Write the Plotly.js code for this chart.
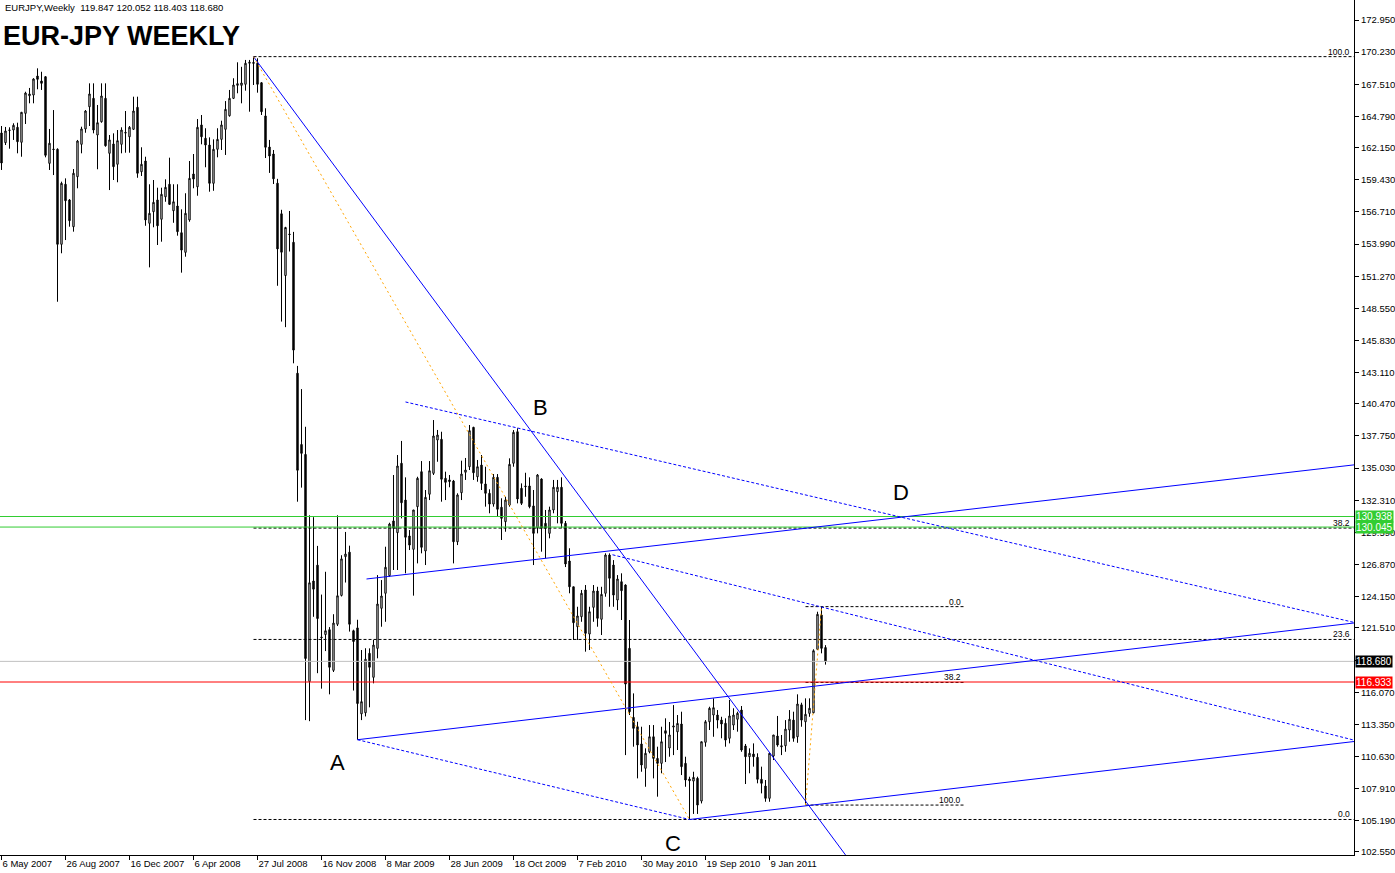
<!DOCTYPE html>
<html><head><meta charset="utf-8">
<script src="https://cdn.plot.ly/plotly-3.0.1.min.js"></script>
<style>html,body{margin:0;padding:0;background:#fff;}#chart{width:1395px;height:873px;}</style>
</head><body><div id="chart"></div>
<script>
// ---- weekly candles (index 0 = week of 6 May 2007) ----
const openP = [163.39,162.57,163.60,163.64,163.87,162.60,165.05,166.54,166.60,168.21,
167.79,168.15,160.82,162.03,162.01,153.97,159.05,157.72,155.46,159.69,
162.43,163.73,165.61,166.32,163.22,164.34,166.32,161.67,162.46,160.74,
162.43,163.43,163.07,163.70,165.56,160.11,161.02,155.75,156.73,157.72,
156.09,157.99,159.05,156.81,157.21,154.95,153.29,156.03,159.92,158.84,
164.07,162.94,162.37,159.13,162.01,162.85,163.70,164.85,166.32,167.42,
167.42,167.51,169.29,169.35,169.29,167.64,164.83,162.20,161.61,159.14,
156.55,151.33,154.84,154.14,143.06,137.03,136.19,116.98,125.48,126.82,
120.74,120.95,121.36,117.92,121.82,124.26,127.54,127.92,121.27,121.51,
114.24,114.33,119.36,117.33,119.78,123.17,124.44,125.93,130.56,129.57,
135.44,132.33,129.29,128.16,131.77,134.73,128.02,132.82,134.59,137.41,
137.47,134.17,134.03,133.94,128.80,132.95,134.68,135.15,138.48,134.30,
135.29,133.69,132.90,131.99,134.25,131.72,130.50,131.91,135.44,138.11,
133.32,133.52,133.52,131.83,129.99,134.11,130.36,129.51,131.49,133.04,
133.41,130.36,127.17,124.99,121.61,122.46,124.72,120.99,123.25,124.63,
122.24,124.44,127.68,126.83,123.87,125.42,125.14,119.78,113.94,113.15,
111.69,109.63,111.03,112.30,110.47,110.05,112.81,111.35,113.12,112.72,
113.38,110.05,108.72,108.55,108.78,106.86,111.83,113.57,114.14,114.14,
113.71,113.44,112.17,113.29,113.78,114.56,111.52,110.61,110.84,110.56,
108.70,108.13,107.09,110.67,112.36,111.54,111.54,112.87,113.71,112.30,
115.00,113.57,114.28,114.33,119.70,122.60,119.847];
const highP = [163.98,163.90,163.87,164.21,164.26,165.17,166.88,167.20,168.02,168.86,
168.57,168.21,163.73,165.33,162.09,159.27,159.55,157.80,160.34,162.80,
163.92,165.33,167.59,167.59,165.76,167.59,167.59,163.22,163.36,163.64,
163.87,165.25,163.98,166.46,166.46,162.18,161.38,159.05,159.41,158.76,
158.76,159.47,161.30,159.05,159.05,156.93,158.29,161.02,161.61,164.57,
164.91,163.79,163.02,162.85,163.79,164.43,166.09,167.03,168.02,169.37,
168.99,169.57,169.57,169.85,169.71,167.70,165.48,162.80,161.95,159.51,
156.89,155.45,156.79,155.02,143.68,141.72,138.53,131.04,130.88,128.45,
124.33,126.26,121.58,122.67,131.04,127.66,129.63,128.47,121.36,122.20,
119.64,119.79,119.78,120.49,125.98,125.56,128.38,130.41,134.45,136.14,
137.33,134.25,129.79,131.49,134.30,135.63,133.18,135.63,139.10,138.26,
138.11,134.73,134.45,134.03,132.90,135.66,135.89,138.68,138.53,135.72,
136.14,135.15,133.24,134.53,134.53,132.48,132.61,135.86,138.25,138.40,
133.74,134.64,134.25,133.18,134.53,134.17,131.49,131.77,134.03,134.03,
134.25,130.56,128.25,124.99,123.30,124.72,125.14,123.30,125.14,124.99,
124.99,127.82,127.82,127.25,125.98,126.13,125.20,122.18,115.97,113.57,
113.15,111.32,113.29,113.29,111.46,113.15,113.86,113.55,114.98,114.14,
114.42,110.61,108.92,109.34,108.92,111.88,113.71,114.84,115.55,114.56,
113.99,113.86,115.41,114.71,114.42,114.90,111.69,111.32,111.74,110.90,
109.77,108.64,110.95,112.45,114.06,112.45,113.71,114.56,114.42,115.89,
115.18,115.55,115.55,119.70,122.88,123.31,120.052];
const lowP = [160.26,162.37,162.06,162.80,161.67,161.38,164.15,165.90,165.90,167.09,
167.03,161.33,160.26,159.83,149.11,153.21,154.33,155.46,155.04,158.71,
161.67,163.41,163.98,163.36,160.32,164.26,162.23,158.56,159.41,159.22,
161.67,161.72,161.72,163.64,159.60,159.75,155.54,152.02,155.41,153.91,
154.19,157.57,157.30,155.79,154.70,151.57,152.92,155.88,158.71,158.08,
162.43,160.49,158.42,158.50,161.33,161.95,161.53,164.77,166.26,166.75,
165.90,166.97,165.19,167.45,166.80,164.91,161.27,160.01,159.07,150.46,
147.43,146.96,153.36,143.90,132.19,133.38,113.71,113.62,122.45,117.68,
116.37,119.55,115.89,117.78,121.67,124.17,125.35,121.20,116.21,112.05,
113.71,114.02,114.79,116.82,118.94,121.61,122.03,125.84,126.41,126.41,
130.78,126.13,128.10,124.24,126.97,127.82,126.83,132.33,134.45,135.57,
132.19,132.33,133.41,126.97,128.52,132.33,134.03,134.87,134.03,133.88,
133.18,131.77,131.21,131.77,130.92,128.95,129.65,131.77,135.15,132.05,
131.91,132.61,131.63,126.83,129.51,127.96,127.40,129.09,131.21,130.36,
129.94,126.66,124.44,120.49,120.49,122.03,119.50,119.64,122.03,121.61,
120.91,124.15,123.30,123.30,123.02,122.18,110.75,114.14,111.46,108.78,
109.34,108.07,110.90,108.78,107.23,109.21,110.16,110.61,110.75,111.18,
109.06,108.07,105.30,105.77,105.77,106.66,111.46,112.87,112.30,113.01,
112.17,111.46,111.74,112.87,112.73,111.03,108.30,109.21,109.77,108.36,
107.51,106.80,106.80,110.33,111.46,110.75,111.03,111.88,111.88,111.79,
113.15,106.52,113.99,114.28,119.64,119.36,118.403];
const closeP = [160.85,163.56,163.64,164.04,162.65,165.14,166.77,166.69,167.96,167.93,
167.59,161.50,162.52,161.99,153.97,159.13,157.66,155.97,159.98,162.71,
163.73,165.25,166.69,163.64,164.26,166.52,162.31,162.80,160.54,162.74,
163.64,163.39,163.87,165.25,159.98,160.74,156.03,156.59,157.52,155.54,
158.20,158.79,157.35,157.57,155.04,153.48,156.59,159.55,159.49,163.87,
163.07,162.37,159.13,162.01,162.85,164.07,165.39,166.32,167.45,167.56,
167.62,169.29,169.37,169.29,167.51,165.19,162.18,161.44,159.51,153.58,
153.30,155.39,154.80,145.02,134.85,136.28,118.92,125.33,124.79,122.30,
120.70,121.27,118.18,121.92,124.23,127.35,127.76,121.82,120.36,115.11,
115.27,118.86,118.18,120.06,123.53,124.21,126.64,130.30,129.94,135.21,
132.10,129.18,128.52,131.49,134.17,128.33,132.56,134.81,137.75,137.83,
134.09,133.83,133.90,128.80,132.76,134.53,134.87,138.20,134.64,135.15,
133.74,132.90,131.99,134.25,131.55,130.78,132.33,135.35,138.06,132.42,
132.05,133.47,131.77,129.51,134.45,129.94,129.94,131.49,133.41,133.41,
130.36,126.92,124.99,121.95,122.52,124.44,121.05,122.88,124.63,122.32,
124.35,127.68,125.71,124.29,125.65,124.66,116.76,114.42,113.01,111.60,
109.91,110.90,112.30,110.47,110.05,111.88,112.59,112.45,113.21,113.43,
109.77,108.64,108.58,108.86,106.52,111.88,113.57,114.71,114.76,113.71,
113.38,112.02,114.06,114.14,114.29,111.18,110.61,110.90,110.61,108.70,
108.36,107.09,110.90,112.45,111.60,111.46,112.95,113.78,112.17,115.07,
113.71,114.20,114.71,119.58,122.66,119.78,118.680];
const weekIdx = openP.map((_, i) => i);

// ---- axis ticks ----
const dateTickIdx = [0,16,32,48,64,80,96,112,128,144,160,176,192];
const dateTickText = ['6 May 2007','26 Aug 2007','16 Dec 2007','6 Apr 2008','27 Jul 2008','16 Nov 2008','8 Mar 2009','28 Jun 2009','18 Oct 2009','7 Feb 2010','30 May 2010','19 Sep 2010','9 Jan 2011'];
const priceTicks = [172.950,170.230,167.510,164.790,162.150,159.430,156.710,153.990,151.270,148.550,145.830,143.110,140.470,137.750,135.030,132.310,129.590,126.870,124.150,121.510,118.790,116.070,113.350,110.630,107.910,105.190,102.550];
// tick labels hidden behind the price boxes in the reference
const hiddenTickLabels = [118.790];

// ---- horizontal price lines ----
const hLinePrices = [118.680, 116.933, 130.938, 130.045];
const hLineColors = ['#c0c0c0', '#ff0000', '#32cd32', '#32cd32'];
const hLineBoxColors = ['#000000', '#ff0000', '#32cd32', '#32cd32'];

// ---- fibonacci 1 (high -> C low) ----
const fib1High = 169.85, fib1Low = 105.30, fib1StartIdx = 63, fib1EndIdx = 338.1;
const fib1Levels = [100.0, 38.2, 23.6, 0.0];
// ---- fibonacci 2 (March 2011 low -> April high) ----
const fib2High = 123.31, fib2Low = 106.52, fib2StartIdx = 201, fib2EndIdx = 240.5;
const fib2Levels = [0.0, 38.2, 100.0];

// ---- trend lines ----
const trendStartIdx   = [63, 91.25, 89, 172, 101, 152.75, 89, 63, 201];
const trendStartPrice = [169.85, 125.65, 112.05, 105.30, 140.63, 127.70, 112.05, 169.85, 106.52];
const trendEndIdx     = [211, 338.2, 338.2, 338.2, 338.2, 338.2, 172, 172, 205];
const trendEndPrice   = [102.30, 135.31, 121.93, 111.90, 121.97, 112.01, 105.30, 105.30, 123.31];
const trendColor = ['#0000ff','#0000ff','#0000ff','#0000ff','#0000ff','#0000ff','#0000ff','#ffa500','#ffa500'];
const trendDash  = ['solid','solid','solid','solid','3px,2px','3px,2px','3px,2px','2px,3px','2px,3px'];

// ---- wave labels ----
const waveLabels = ['A','B','C','D'];
const waveIdx = [84, 134.75, 167.75, 224.75];
const wavePrice = [110.16, 140.20, 103.31, 132.93];

const FONT = 'Liberation Sans, Arial, sans-serif';
const traces = [];
traces.push({
  type:'candlestick', x:weekIdx, open:openP, high:highP, low:lowP, close:closeP,
  increasing:{line:{color:'#000', width:1}, fillcolor:'#ffffff'},
  decreasing:{line:{color:'#000', width:1}, fillcolor:'#000000'},
  whiskerwidth:0, hoverinfo:'none', showlegend:false
});
const xMin = -0.375, xMax = 338.125;
const fib1Price = fib1Levels.map(L => fib1Low + (fib1High - fib1Low) * L / 100);
fib1Price.forEach(p => traces.push({type:'scatter', mode:'lines', x:[fib1StartIdx, fib1EndIdx], y:[p, p], line:{color:'#000', width:1, dash:'3px,2px'}, hoverinfo:'skip', showlegend:false}));
const fib2Price = fib2Levels.map(L => fib2High - (fib2High - fib2Low) * L / 100);
fib2Price.forEach(p => traces.push({type:'scatter', mode:'lines', x:[fib2StartIdx, fib2EndIdx], y:[p, p], line:{color:'#000', width:1, dash:'3px,2px'}, hoverinfo:'skip', showlegend:false}));
hLinePrices.forEach((p, k) => {
  traces.push({type:'scatter', mode:'lines', x:[xMin, xMax], y:[p, p], line:{color:hLineColors[k], width:1}, hoverinfo:'skip', showlegend:false});
});
trendStartIdx.forEach((s, k) => {
  traces.push({type:'scatter', mode:'lines', x:[s, trendEndIdx[k]], y:[trendStartPrice[k], trendEndPrice[k]], line:{color:trendColor[k], width:1, dash:trendDash[k]}, hoverinfo:'skip', showlegend:false});
});

const annotations = [];
annotations.push({xref:'paper', yref:'paper', x:3/1354, y:1 - 8/855, xanchor:'left', yanchor:'middle', showarrow:false,
  text:'EURJPY,Weekly&nbsp;&nbsp;119.847 120.052 118.403 118.680', font:{family:FONT, size:9.5, color:'#000'}});
annotations.push({xref:'paper', yref:'paper', x:1/1354, y:1 - 36/855, xanchor:'left', yanchor:'middle', showarrow:false,
  text:'<b>EUR-JPY WEEKLY</b>', font:{family:FONT, size:27, color:'#000'}});
fib1Levels.forEach((L, k) => annotations.push({x:fib1EndIdx, y:fib1Price[k], xref:'x', yref:'y', xanchor:'right', yanchor:'bottom', xshift:-2, yshift:-2, showarrow:false,
  text:L.toFixed(1), font:{family:FONT, size:8.5, color:'#000'}}));
fib2Levels.forEach((L, k) => annotations.push({x:fib2EndIdx, y:fib2Price[k], xref:'x', yref:'y', xanchor:'right', yanchor:'bottom', xshift:-1, yshift:-2, showarrow:false,
  text:L.toFixed(1), font:{family:FONT, size:8.5, color:'#000'}}));
waveLabels.forEach((t, k) => annotations.push({x:waveIdx[k], y:wavePrice[k], xref:'x', yref:'y', xanchor:'center', yanchor:'middle', showarrow:false,
  text:t, font:{family:FONT, size:22, color:'#000'}}));
hLinePrices.forEach((p, k) => annotations.push({xref:'paper', yref:'y', x:1, y:p, xanchor:'left', yanchor:'middle', xshift:1, showarrow:false,
  text:p.toFixed(3), bgcolor:hLineBoxColors[k], borderpad:0, font:{family:FONT, size:10, color:'#fff'}}));

const tickFont = {family:FONT, size:9.5, color:'#000'};
const layout = {
  width:1395, height:873,
  margin:{l:0, r:41, t:0, b:18, pad:0},
  paper_bgcolor:'#ffffff', plot_bgcolor:'#ffffff',
  showlegend:false, boxgap:0.5, hovermode:false,
  xaxis:{range:[xMin, xMax], showgrid:false, zeroline:false, showline:true, mirror:true, linecolor:'#000', linewidth:1,
    ticks:'outside', ticklen:4, tickcolor:'#000', tickvals:dateTickIdx, ticktext:dateTickText,
    ticklabelposition:'outside right', tickfont:tickFont, rangeslider:{visible:false}, fixedrange:true},
  yaxis:{range:[102.295, 174.642], side:'right', showgrid:false, zeroline:false, showline:true, mirror:true, linecolor:'#000', linewidth:1,
    ticks:'outside', ticklen:4, tickcolor:'#000', tickvals:priceTicks,
    ticktext:priceTicks.map(v => hiddenTickLabels.includes(v) ? '' : v.toFixed(3)),
    tickfont:tickFont, fixedrange:true},
  annotations:annotations
};
Plotly.newPlot('chart', traces, layout, {displayModeBar:false, staticPlot:true});
</script>
</body></html>
